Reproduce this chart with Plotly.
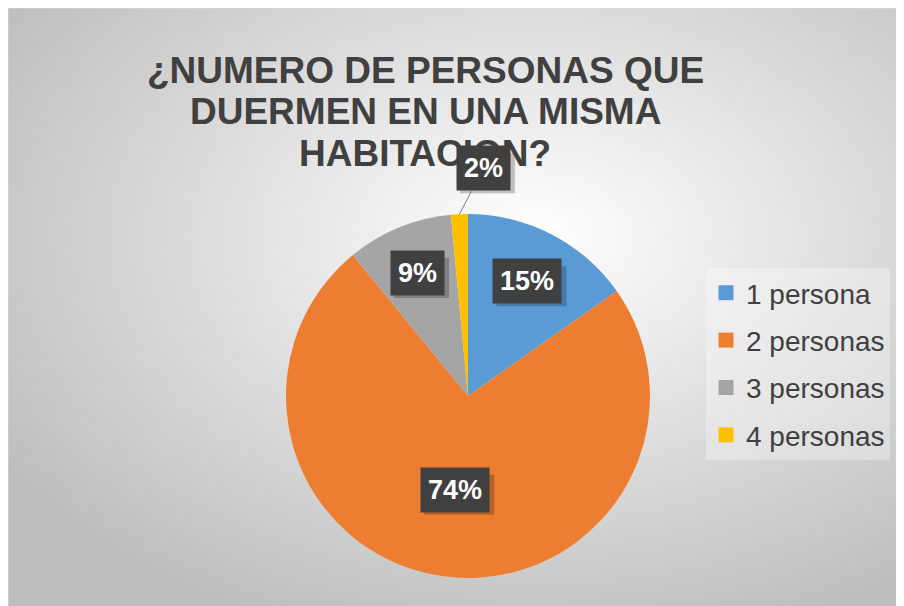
import base64
import numpy as np
import plotly.graph_objects as go

# data
categories = ["1 persona", "2 personas", "3 personas", "4 personas"]
shares = [15.2, 73.8, 9.4, 1.5]
colors = ["#5B9BD5", "#ED7D31", "#A5A5A5", "#FFC000"]
title_lines = ["¿NUMERO DE PERSONAS QUE", "DUERMEN EN UNA MISMA", "HABITACION?"]

W, H = 904, 606
OFF = 8  # page body margin shifts the figure
FONT = "Liberation Sans, Arial, sans-serif"

# pie geometry in screen pixels
cx, cy, R = 468, 396, 182


def to_paper(x, y):
    return (x - OFF) / W, 1 - (y - OFF) / H


# gradient background for the chart area
svg = f"""<svg xmlns='http://www.w3.org/2000/svg' width='{W}' height='{H}'>
<defs><radialGradient id='g' cx='58%' cy='38%' r='70%'>
<stop offset='0%' stop-color='#ffffff'/><stop offset='100%' stop-color='#bdbdbd'/>
</radialGradient></defs>
<rect x='0' y='0' width='{W}' height='{H}' fill='url(#g)'/></svg>"""
bg_src = "data:image/svg+xml;base64," + base64.b64encode(svg.encode()).decode()

fig = go.Figure()

x0, y1 = to_paper(cx - R, cy - R)
x1, y0 = to_paper(cx + R, cy + R)
fig.add_trace(go.Pie(
    labels=categories,
    values=shares,
    marker=dict(colors=colors, line=dict(width=0)),
    sort=False,
    direction="clockwise",
    rotation=0,
    textinfo="none",
    hoverinfo="label+percent",
    showlegend=False,
    domain=dict(x=[x0, x1], y=[y0, y1]),
))

# legend entries
for cat, col in zip(categories, colors):
    fig.add_trace(go.Scatter(
        x=[None], y=[None], mode="markers", name=cat, legendgroup=cat,
        marker=dict(symbol="square", size=15, color=col),
    ))

annotations = []
shapes = [dict(
    type="rect", xref="paper", yref="paper", x0=0, y0=0, x1=1, y1=1,
    line=dict(color="#d9d9d9", width=1), layer="below",
)]

for i, line in enumerate(title_lines):
    tx, ty = to_paper(425, 71 + i * 41)
    annotations.append(dict(
        x=tx, y=ty, xref="paper", yref="paper", text=line, showarrow=False,
        xanchor="center", yanchor="middle",
        font=dict(family=FONT, size=37, color="#404040", weight="bold"),
    ))

# data labels positioned from the slice angles
fracs = np.array(shares) / sum(shares)
ends = np.cumsum(fracs)
mids = ends - fracs / 2
radial = [0.71, 0.52, 0.73, None]
label_font = dict(family=FONT, size=27, color="white", weight="bold")


def add_shadow(lx, ly, pct):
    # soft drop shadow behind the label box
    w = 27 * (0.556 * (len(pct) - 1) + 0.889) + 16
    h = 40
    sx0, sy0 = to_paper(lx - w / 2 + 4, ly + h / 2 + 5)
    sx1, sy1 = to_paper(lx + w / 2 + 4, ly - h / 2 + 5)
    shapes.append(dict(
        type="rect", xref="paper", yref="paper", x0=sx0, y0=sy0, x1=sx1, y1=sy1,
        fillcolor="rgba(0,0,0,0.22)", line=dict(width=0), layer="above",
    ))


for i, m in enumerate(mids):
    ang = 2 * np.pi * m
    pct = f"{round(fracs[i] * 100)}%"
    if radial[i] is not None:
        lx = cx + R * radial[i] * np.sin(ang)
        ly = cy - R * radial[i] * np.cos(ang)
        add_shadow(lx, ly, pct)
        px_, py_ = to_paper(lx, ly)
        annotations.append(dict(
            x=px_, y=py_, xref="paper", yref="paper", text=pct, showarrow=False,
            xanchor="center", yanchor="middle",
            bgcolor="#404040", borderpad=7, font=label_font,
        ))
    else:
        ex = cx + R * np.sin(ang)
        ey = cy - R * np.cos(ang)
        add_shadow(ex + 24, ey - 46, pct)
        px_, py_ = to_paper(ex, ey)
        annotations.append(dict(
            x=px_, y=py_, xref="paper", yref="paper", text=pct, showarrow=True,
            ax=24, ay=-46, arrowhead=0, arrowwidth=1, arrowcolor="#7f7f7f",
            standoff=0, bgcolor="#404040", borderpad=7, font=label_font,
        ))

lx, ly = to_paper(706, 364)

fig.update_layout(
    width=W, height=H,
    margin=dict(l=0, r=0, t=0, b=0),
    paper_bgcolor="white",
    plot_bgcolor="rgba(0,0,0,0)",
    xaxis=dict(visible=False),
    yaxis=dict(visible=False),
    images=[dict(
        source=bg_src, xref="paper", yref="paper", x=0, y=1,
        sizex=1, sizey=1, sizing="stretch", layer="below",
    )],
    shapes=shapes,
    legend=dict(
        x=lx, y=ly, xanchor="left", yanchor="middle",
        font=dict(family=FONT, size=28, color="#404040"),
        bgcolor="rgba(255,255,255,0.3)", tracegroupgap=8,
    ),
    annotations=annotations,
)

fig.write_html("out.html")
